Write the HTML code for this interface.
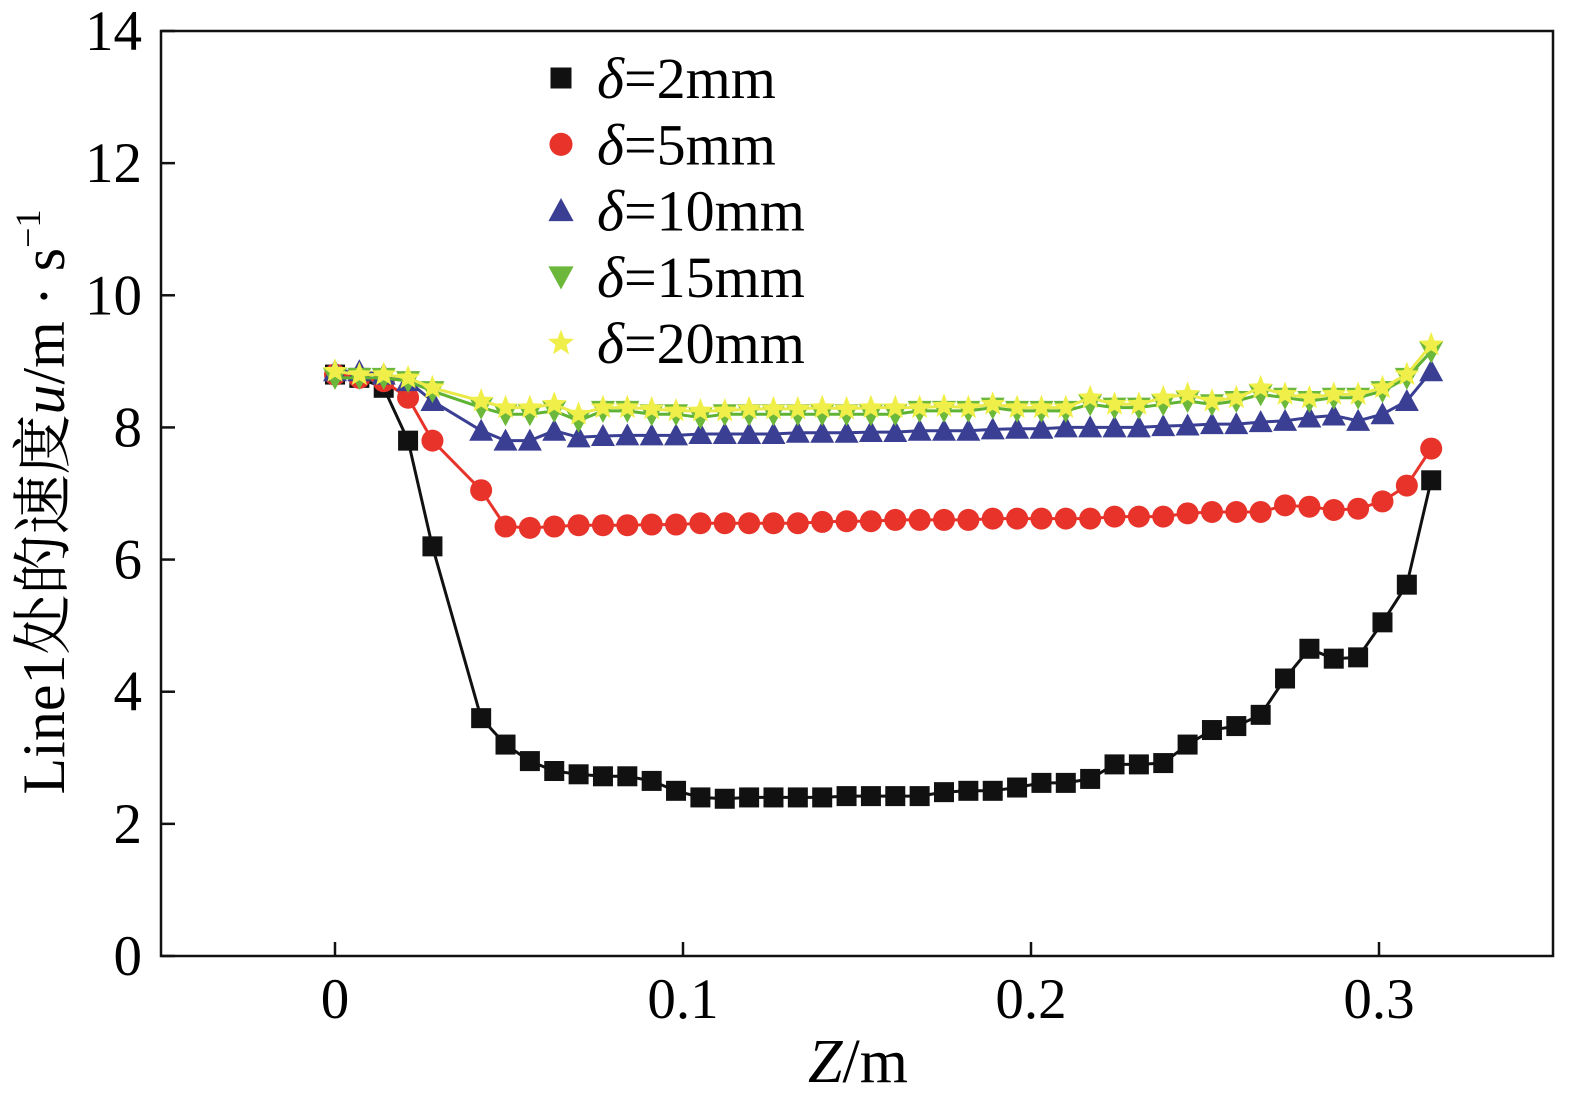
<!DOCTYPE html>
<html><head><meta charset="utf-8">
<style>
html,body{margin:0;padding:0;background:#fff;}
svg{display:block;font-family:"Liberation Serif","Noto Serif CJK SC",serif;}
</style></head>
<body>
<svg id="chart" width="1595" height="1118" viewBox="0 0 1595 1118" xmlns="http://www.w3.org/2000/svg">
<rect x="161" y="31" width="1392" height="925" fill="none" stroke="#111" stroke-width="2.5"/>
<g id="axes"></g>
<g id="series"></g>
<text x="858" y="1082" font-size="62" text-anchor="middle"><tspan font-style="italic">Z</tspan>/m</text>
<text transform="translate(64,502) rotate(-90)" font-size="60" text-anchor="middle">Line1处的速度<tspan font-style="italic">u</tspan>/m · s<tspan font-size="36" dy="-24">−1</tspan></text>
<g id="legend"></g>
</svg>
<script>
const zValues=[];for(let i=0;i<46;i++)zValues.push(+(i*0.007).toFixed(3));
const d2=[8.8,8.75,8.6,7.8,6.2,null,3.6,3.2,2.95,2.8,2.75,2.72,2.72,2.65,2.5,2.4,2.38,2.4,2.4,2.4,2.4,2.42,2.42,2.42,2.42,2.48,2.5,2.5,2.55,2.62,2.62,2.68,2.9,2.9,2.92,3.2,3.42,3.48,3.65,4.2,4.65,4.5,4.52,5.05,5.62,7.2];
const d5=[8.8,8.75,8.7,8.45,7.8,null,7.05,6.5,6.48,6.5,6.52,6.52,6.52,6.53,6.53,6.55,6.55,6.55,6.55,6.55,6.57,6.58,6.58,6.6,6.6,6.6,6.6,6.62,6.62,6.62,6.62,6.62,6.65,6.65,6.65,6.7,6.72,6.72,6.72,6.82,6.8,6.75,6.77,6.88,7.12,7.68];
const d10=[8.85,8.85,8.8,8.7,8.4,null,7.95,7.8,7.8,7.95,7.85,7.87,7.88,7.88,7.88,7.9,7.9,7.9,7.9,7.92,7.92,7.92,7.93,7.93,7.95,7.95,7.95,7.97,7.98,7.98,8.0,8.0,8.0,8.0,8.02,8.03,8.05,8.05,8.08,8.1,8.15,8.18,8.1,8.2,8.4,8.85];
const d15=[8.75,8.75,8.75,8.7,8.55,null,8.3,8.2,8.2,8.25,8.1,8.25,8.25,8.2,8.2,8.15,8.2,8.2,8.2,8.2,8.2,8.2,8.2,8.2,8.25,8.25,8.25,8.3,8.25,8.25,8.25,8.35,8.3,8.3,8.35,8.4,8.35,8.4,8.5,8.45,8.4,8.45,8.45,8.55,8.75,9.15];
const d20=[8.85,8.8,8.8,8.75,8.6,null,8.4,8.3,8.3,8.35,8.2,8.3,8.3,8.28,8.25,8.25,8.25,8.28,8.28,8.28,8.3,8.28,8.3,8.3,8.3,8.32,8.3,8.35,8.3,8.3,8.3,8.45,8.35,8.35,8.45,8.5,8.4,8.45,8.6,8.5,8.45,8.5,8.5,8.6,8.8,9.25];
const xTicks=[0,0.1,0.2,0.3];
const xTickLabels=["0","0.1","0.2","0.3"];
const yTicks=[0,2,4,6,8,10,12,14];
const legendLabels=["2mm","5mm","10mm","15mm","20mm"];

const NS="http://www.w3.org/2000/svg";
const X0=161,X1=1553,Y0=956,Y1=31;
const xs=v=>X0+(v+0.05)/0.4*(X1-X0);
const ys=v=>Y0-v/14*(Y0-Y1);
function mk(tag,attrs,parent){const e=document.createElementNS(NS,tag);for(const k in attrs)e.setAttribute(k,attrs[k]);parent.appendChild(e);return e;}
const axes=document.getElementById('axes');
xTicks.forEach((t,i)=>{
  const l=mk('line',{x1:xs(t),x2:xs(t),y1:Y0,y2:Y0-14,stroke:'#111','stroke-width':2.5},axes);
  
  
  const tx=mk('text',{x:xs(t),y:1018,'font-size':57,'text-anchor':'middle'},axes);
  tx.textContent=xTickLabels[i];
  
  
});
yTicks.forEach(t=>{
  const l=mk('line',{x1:X0,x2:X0+14,y1:ys(t),y2:ys(t),stroke:'#111','stroke-width':2.5},axes);
  
  
  const tx=mk('text',{x:142,y:ys(t)+19,'font-size':57,'text-anchor':'end'},axes);
  tx.textContent=String(t);
  
  
});
function marker(type,x,y,fill,parent,s){
  s=s||1;
  if(type==='square')return mk('rect',{x:x-10*s,y:y-10*s,width:20*s,height:20*s,fill:fill},parent);
  if(type==='circle')return mk('circle',{cx:x,cy:y,r:11*s,fill:fill},parent);
  if(type==='tri')return mk('polygon',{points:`${x},${y-12*s} ${x-12*s},${y+10*s} ${x+12*s},${y+10*s}`,fill:fill},parent);
  if(type==='tridown')return mk('polygon',{points:`${x},${y+12*s} ${x-12*s},${y-10*s} ${x+12*s},${y-10*s}`,fill:fill},parent);
  if(type==='star'){let p=[];for(let k=0;k<10;k++){const r=k%2?5.5*s:13*s,a=-Math.PI/2+k*Math.PI/5;p.push((x+r*Math.cos(a)).toFixed(1)+','+(y+r*Math.sin(a)).toFixed(1));}return mk('polygon',{points:p.join(' '),fill:fill},parent);}
}
const seriesDefs=[
  {name:'series-2mm',data:d2,line:'#111',fill:'#111',m:'square'},
  {name:'series-5mm',data:d5,line:'#e8332a',fill:'#e8332a',m:'circle'},
  {name:'series-10mm',data:d10,line:'#3a3f93',fill:'#3a3f93',m:'tri'},
  {name:'series-15mm',data:d15,line:'#5fb332',fill:'#6cb83a',m:'tridown'},
  {name:'series-20mm',data:d20,line:'#e9e94a',fill:'#f0ef4a',m:'star'}
];
const sg=document.getElementById('series');
seriesDefs.forEach(s=>{
  const g=mk('g',{},sg);
  
  
  const pts=[];
  s.data.forEach((v,i)=>{if(v!==null)pts.push(xs(zValues[i]).toFixed(1)+','+ys(v).toFixed(1));});
  const pl=mk('polyline',{points:pts.join(' '),fill:'none',stroke:s.line,'stroke-width':3},g);
  
  
  s.data.forEach((v,i)=>{if(v===null)return;
    const m=marker(s.m,xs(zValues[i]),ys(v),s.fill,g);
    
    
  });
});
const lg=document.getElementById('legend');
seriesDefs.forEach((s,i)=>{
  const y=78+i*66.3;
  const g=mk('g',{},lg);
  
  
  marker(s.m,561,y,s.fill,g,1.05);
  const t=mk('text',{x:597,y:y+20,'font-size':58},g);
  t.innerHTML='<tspan font-style="italic">δ</tspan>='+legendLabels[i];
});
</script>
</body></html>
